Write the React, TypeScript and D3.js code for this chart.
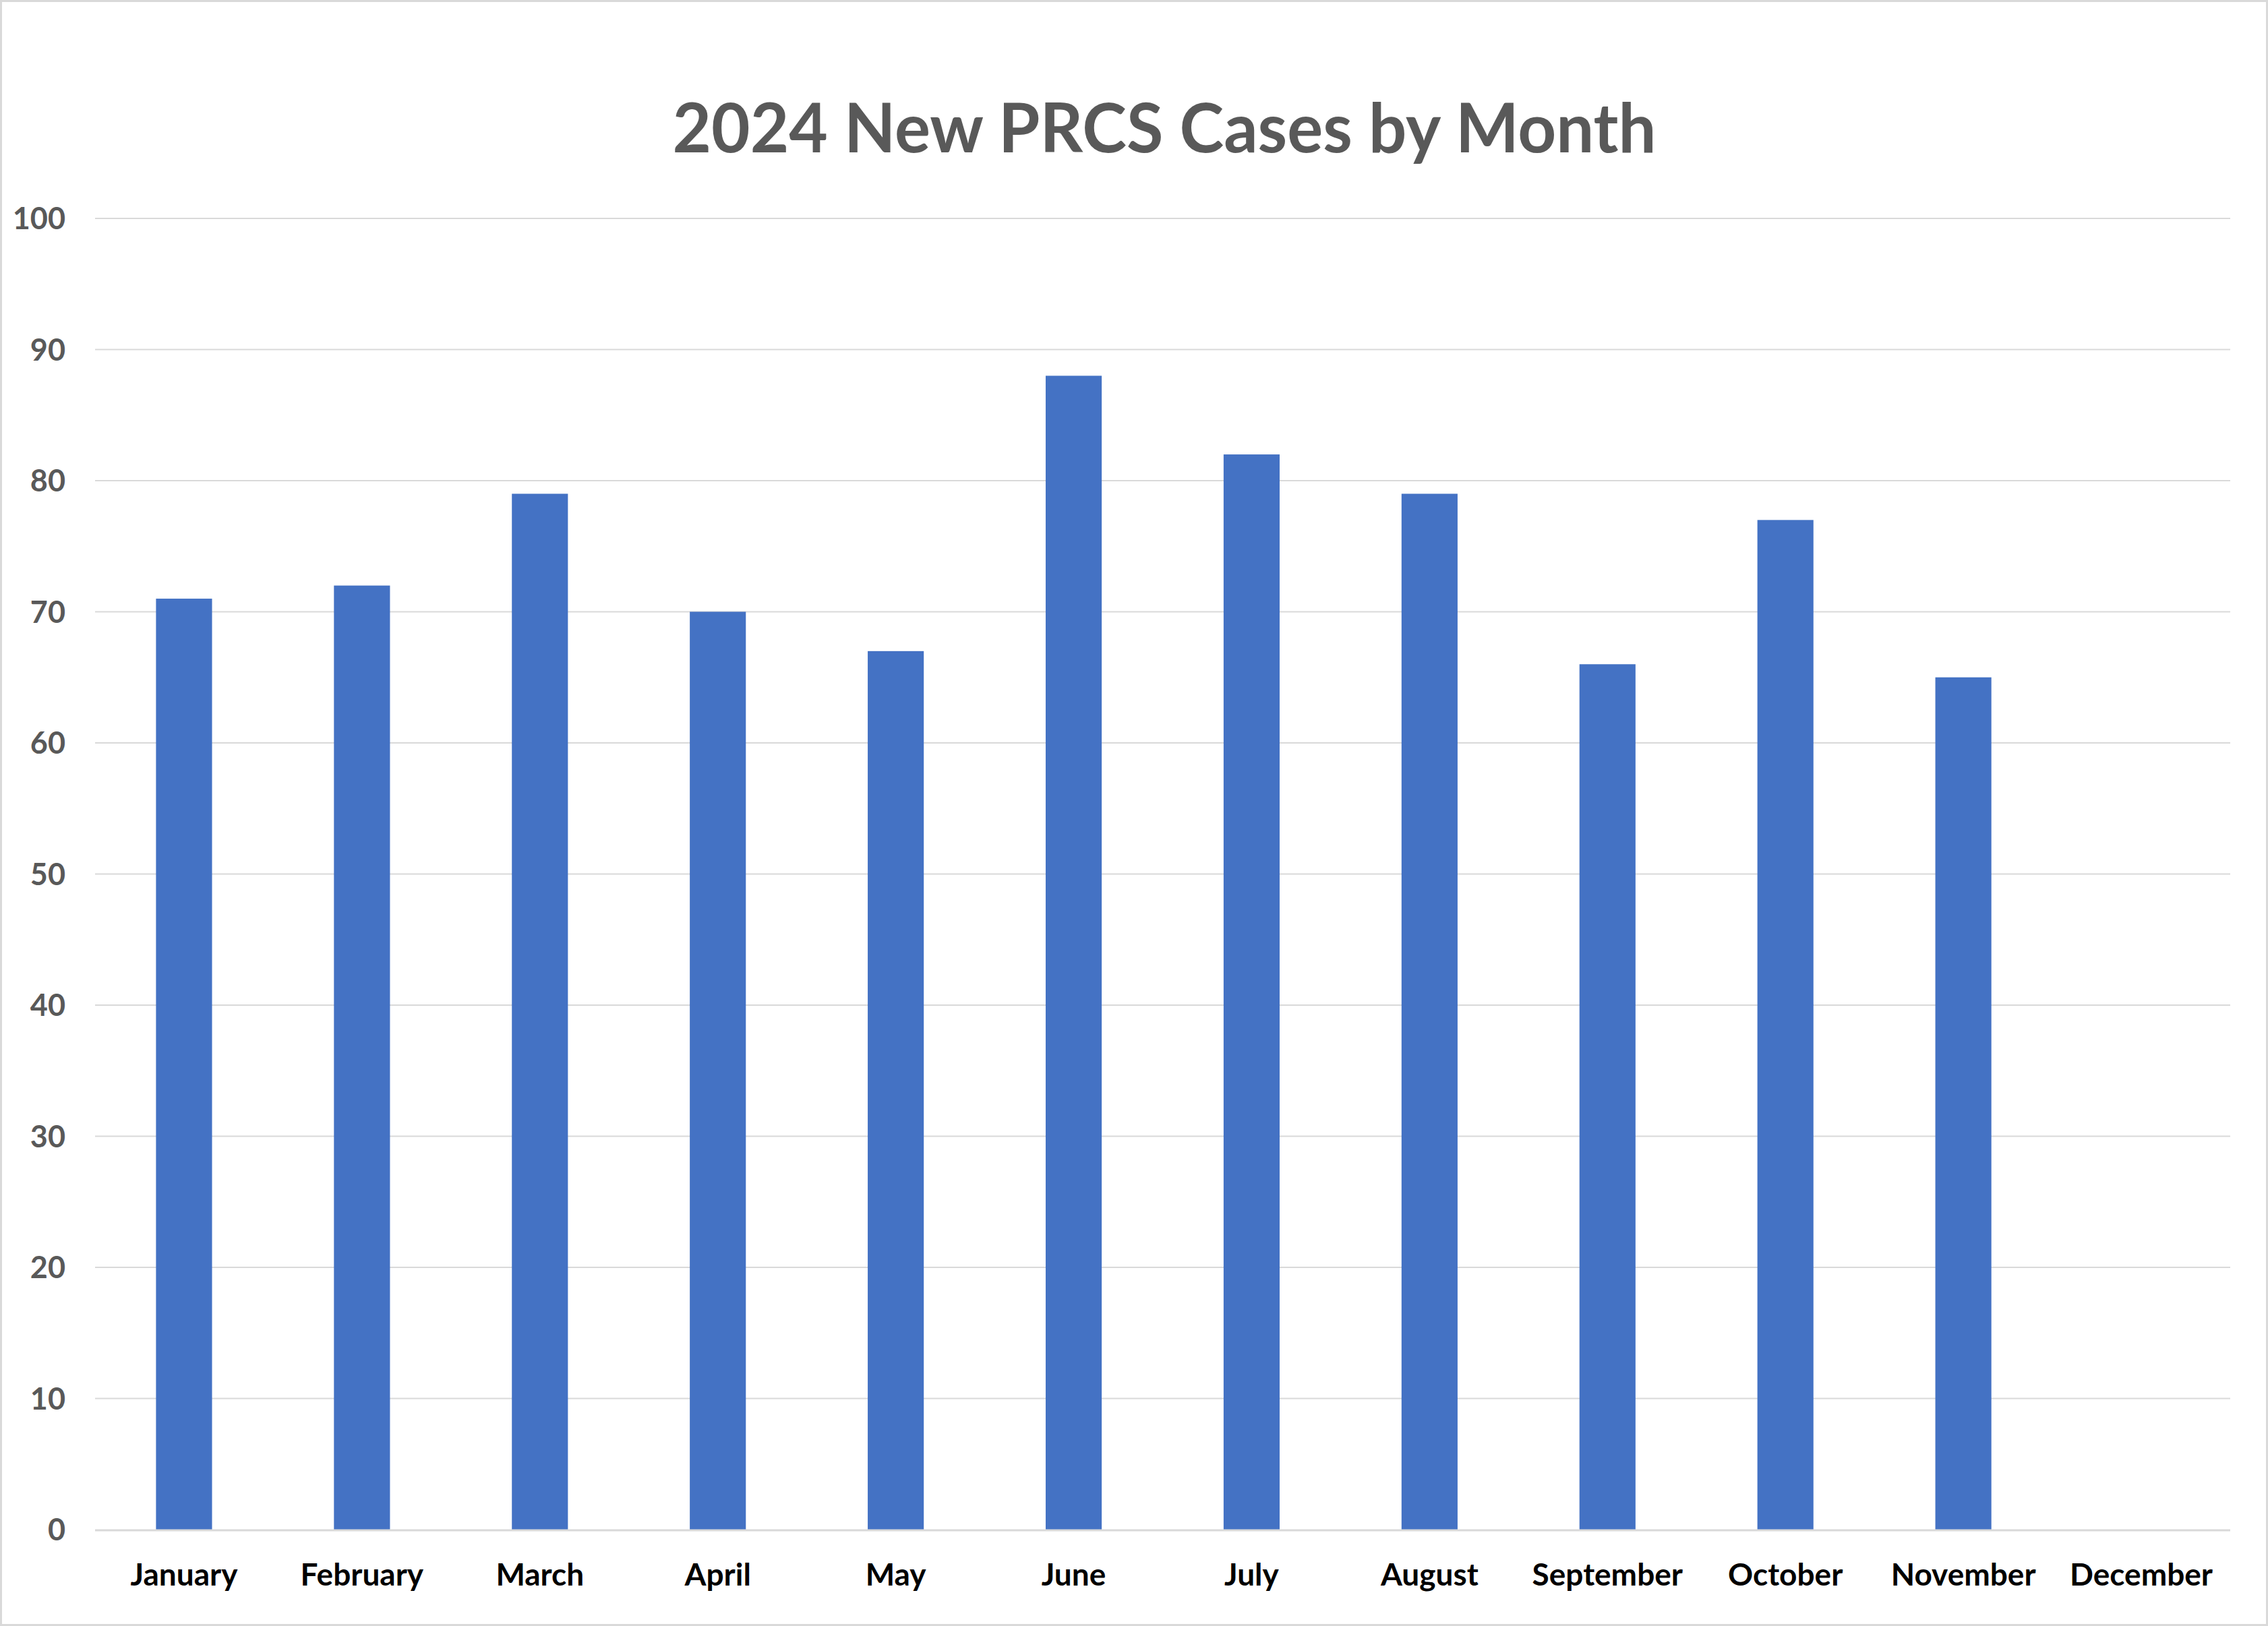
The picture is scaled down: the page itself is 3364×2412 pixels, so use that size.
import React from "react";
import * as d3 from "d3";

const months = ["January","February","March","April","May","June","July","August","September","October","November","December"];
const cases: (number | null)[] = [71, 72, 79, 70, 67, 88, 82, 79, 66, 77, 65, null];
const yTicks = [0, 10, 20, 30, 40, 50, 60, 70, 80, 90, 100];
const title = "2024 New PRCS Cases by Month";

const W = 3364, H = 2412;
const left = 141, right = 3308, top = 324, bottom = 2269;

export default function App() {
  const x = d3.scaleBand<string>().domain(months).range([left, right]).paddingInner(0.685).paddingOuter(0.3425);
  const y = d3.scaleLinear().domain([0, 100]).range([bottom, top]);
  const font = "Lato, 'Open Sans', sans-serif";
  return (
    <svg width={W} height={H} style={{ position: "absolute", left: 0, top: 0, background: "#fff" }}>
      <rect x={1.5} y={1.5} width={W - 3} height={H - 3} fill="#fff" stroke="#d9d9d9" strokeWidth={3} />
      <text x={1727} y={226} textAnchor="middle" fontFamily={font} fontWeight={700} fontSize={102} fill="#595959" textLength={1459} lengthAdjust="spacingAndGlyphs">{title}</text>
      {yTicks.map(t => (
        <g key={t}>
          {t > 0 && <line x1={left} x2={right} y1={y(t)} y2={y(t)} stroke="#d9d9d9" strokeWidth={2} />}
          <text x={97} y={y(t)} dy="0.36em" textAnchor="end" fontFamily={font} fontWeight={700} fontSize={45} fill="#595959">{t}</text>
        </g>
      ))}
      {months.map((m, i) => cases[i] == null ? null : (
        <rect key={m} x={x(m)} y={y(cases[i] as number)} width={x.bandwidth()} height={y(0) - y(cases[i] as number)} fill="#4472C4" />
      ))}
      <line x1={left} x2={right} y1={bottom + 1} y2={bottom + 1} stroke="#d9d9d9" strokeWidth={3} />
      {months.map(m => (
        <text key={m} x={(x(m) as number) + x.bandwidth() / 2} y={2335} dy="0.36em" textAnchor="middle" fontFamily={font} fontWeight={700} fontSize={46} fill="#000">{m}</text>
      ))}
    </svg>
  );
}
